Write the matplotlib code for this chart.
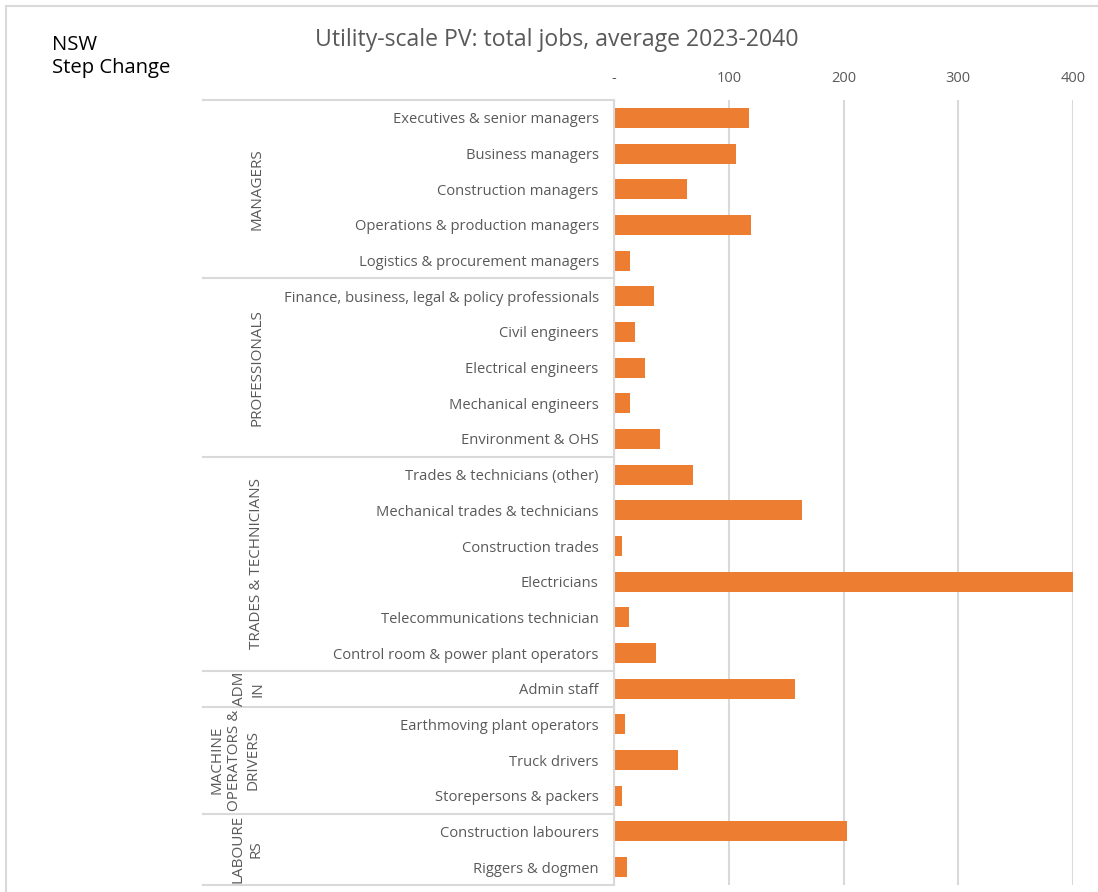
import matplotlib
matplotlib.use("Agg")
import matplotlib.pyplot as plt
from matplotlib.patches import Rectangle
from matplotlib.lines import Line2D
import matplotlib.transforms as mtransforms

categories = [
    "Executives & senior managers", "Business managers", "Construction managers",
    "Operations & production managers", "Logistics & procurement managers",
    "Finance, business, legal & policy professionals", "Civil engineers",
    "Electrical engineers", "Mechanical engineers", "Environment & OHS",
    "Trades & technicians (other)", "Mechanical trades & technicians",
    "Construction trades", "Electricians", "Telecommunications technician",
    "Control room & power plant operators", "Admin staff",
    "Earthmoving plant operators", "Truck drivers", "Storepersons & packers",
    "Construction labourers", "Riggers & dogmen",
]
values = [118, 106, 64, 119, 14, 35, 18, 27, 14, 40, 69, 164, 7, 400, 13, 37,
          158, 10, 56, 7, 203, 11]
groups = ["MANAGERS", "PROFESSIONALS", "TRADES & TECHNICIANS", "ADM\nIN",
          "MACHINE\nOPERATORS &\nDRIVERS", "LABOURE\nRS"]
group_sizes = [5, 5, 6, 1, 3, 2]
xticks = [0, 100, 200, 300, 400]
xtick_labels = ["-", "100", "200", "300", "400"]

W, H = 1098, 892
fig = plt.figure(figsize=(W / 100, H / 100), dpi=100)
plt.rcParams['font.family'] = ['Open Sans', 'DejaVu Sans']

left, right, top, bottom = 614, 1073, 100, 885
ax = fig.add_axes([left / W, 1 - bottom / H, (right - left) / W, (bottom - top) / H])

n = len(categories)
ypos = list(range(n))
ax.barh(ypos, values, height=0.56, color="#ED7D31", zorder=3)
ax.set_ylim(n - 0.5, -0.5)
ax.set_xlim(0, 400)
ax.xaxis.tick_top()
ax.set_xticks(xticks)
ax.set_xticklabels(xtick_labels, color="#595959", fontsize=10.5)
ax.tick_params(axis='x', length=0, pad=10)
ax.set_yticks(ypos)
ax.set_yticklabels(categories, color="#595959", fontsize=10.6)
ax.tick_params(axis='y', length=0, pad=11)
ax.grid(axis='x', color="#d9d9d9", linewidth=1.5, zorder=0)
for s in ["top", "right", "bottom"]:
    ax.spines[s].set_visible(False)
ax.spines["left"].set_color("#d9d9d9")
ax.spines["left"].set_linewidth(1.5)
ax.spines["left"].set_zorder(4)

# Group separators and labels
trans = mtransforms.blended_transform_factory(fig.transFigure, ax.transData)
x0 = 203 / W
x1 = left / W
bounds = [-0.5]
acc = -0.5
for g in group_sizes:
    acc += g
    bounds.append(acc)
for b in bounds:
    fig.add_artist(Line2D([x0, x1], [b, b], transform=trans, color="#d9d9d9", linewidth=1.5))

label_x = [257, 257, 257, 249, 235, 247]
start = -0.5
for g, size, lx in zip(groups, group_sizes, label_x):
    mid = start + size / 2
    fig.text(lx / W, mid, g, transform=trans, rotation=90, ha='center', va='center',
             multialignment='center', color="#595959", fontsize=11, linespacing=1.3)
    start += size

# Title and side text
fig.text(557 / W, 1 - 40 / H, "Utility-scale PV: total jobs, average 2023-2040",
         ha='center', va='center', color="#595959", fontsize=16.6)
fig.text(52 / W, 1 - 57 / H, "NSW\nStep Change", ha='left', va='center',
         color="black", fontsize=14.6, linespacing=1.2)

# Outer border
fig.add_artist(Rectangle((6 / W, -0.1), 1.2, 1 - 6 / H + 0.1, transform=fig.transFigure,
                         fill=False, edgecolor="#d9d9d9", linewidth=1.5))

fig.savefig("out.png", dpi=100, facecolor="white")
